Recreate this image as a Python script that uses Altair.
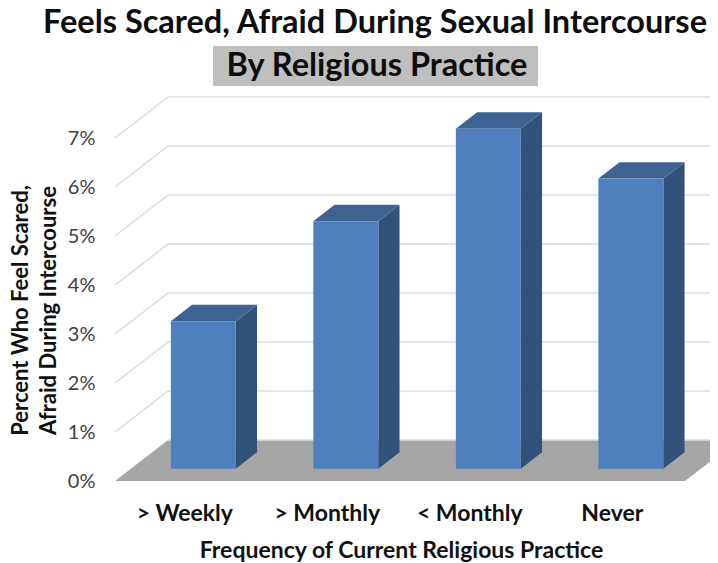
import altair as alt
import pandas as pd

categories = ["> Weekly", "> Monthly", "< Monthly", "Never"]
values = [3.01, 5.05, 6.94, 5.92]
grid_levels = [0, 1, 2, 3, 4, 5, 6, 7]
title_line1 = "Feels Scared, Afraid During Sexual Intercourse"
title_line2 = "By Religious Practice"
y_title = ["Percent Who Feel Scared,", "Afraid During Intercourse"]
x_title = "Frequency of Current Religious Practice"

W, H = 702, 555
X_DOMAIN = [-0.751, 4.175]
Y_DOMAIN = [-1.673, 9.653]
DX, DY = 0.372, 0.837      # oblique offset of the full floor depth, in data units
BAR_W = 0.456
D0, D1 = 0.30, 0.70        # bar's depth span as a share of the floor depth
FONT = "Lato"

xs = alt.Scale(domain=X_DOMAIN, nice=False, zero=False)
ys = alt.Scale(domain=Y_DOMAIN, nice=False, zero=False)

label_expr = "{'0.5':'> Weekly','1.5':'> Monthly','2.5':'< Monthly','3.5':'Never'}[''+datum.value]"

x_axis = alt.Axis(
    values=[0.5, 1.5, 2.5, 3.5], labelExpr=label_expr, title=x_title, grid=False, domain=False, ticks=False,
    labelFont=FONT, labelFontSize=23, labelFontWeight="bold", labelColor="#111111", labelPadding=0,
    labelOffset=-2, offset=-61, titleFont=FONT, titleFontSize=23, titleFontWeight="bold", titleColor="#111111",
    titleX=393, titleY=55, titleAlign="center", titleBaseline="alphabetic", labelFlush=False, labelOverlap=False,
)
y_axis = alt.Axis(
    values=grid_levels, labelExpr="datum.value + '%'", title=y_title, grid=False, domain=False,
    ticks=False, labelFont=FONT, labelFontSize=20, labelColor="#404040", labelPadding=0, offset=-87,
    titleFont=FONT, titleFontSize=22, titleFontWeight="bold", titleColor="#111111", titleX=-68, titleY=302,
    titleAlign="center", titleAngle=270, titleBaseline="alphabetic", titleLineHeight=28, labelFlush=False,
    labelOverlap=False,
)


def X(f="x"):
    return alt.X(f"{f}:Q", scale=xs, axis=x_axis)


def Y(f="y"):
    return alt.Y(f"{f}:Q", scale=ys, axis=y_axis)


# walls
back = pd.DataFrame({"x": [DX] * len(grid_levels), "x2": [X_DOMAIN[1]] * len(grid_levels),
                     "y": [g + DY for g in grid_levels]})
diag = pd.DataFrame([{"g": g, "x": cx, "y": g + cy}
                     for g in grid_levels[1:] for cx, cy in ((0, 0), (DX, DY))])
floor = pd.DataFrame({"y": [0, DY], "x": [0, DX], "x2": [4, 4 + DX]})

# bars
front, side, top = [], [], []
for i, (c, v) in enumerate(zip(categories, values)):
    l = i + 0.508 - BAR_W / 2 + D0 * DX
    r = l + BAR_W
    b = D0 * DY
    t = b + v
    ox, oy = (D1 - D0) * DX, (D1 - D0) * DY
    front.append({"c": c, "x": l, "x2": r, "y": b, "y2": t})
    side += [{"c": c, "x": r, "y": b, "y2": t}, {"c": c, "x": r + ox, "y": b + oy, "y2": t + oy}]
    top += [{"c": c, "y": t, "x": l, "x2": r}, {"c": c, "y": t + oy, "x": l + ox, "x2": r + ox}]
front, side, top = map(pd.DataFrame, (front, side, top))

floor_layer = alt.Chart(floor).mark_area(orient="horizontal", color="#a6a6a6", clip=True).encode(
    x=X(), x2="x2:Q", y=Y())
back_layer = alt.Chart(back).mark_rule(color="#dcdcdc", strokeWidth=1.5, clip=True).encode(
    x=X(), x2="x2:Q", y=Y())
diag_layer = alt.Chart(diag).mark_line(color="#dcdcdc", strokeWidth=1.5).encode(
    x=X(), y=Y(), detail="g:Q")
side_layer = alt.Chart(side).mark_area(color="#325379").encode(
    x=X(), y=Y(), y2="y2:Q", detail="c:N")
top_layer = alt.Chart(top).mark_area(orient="horizontal", color="#3e6391").encode(
    x=X(), x2="x2:Q", y=Y(), detail="c:N")
front_layer = alt.Chart(front).mark_rect(color="#4f80bd").encode(
    x=X(), x2="x2:Q", y=Y(), y2="y2:Q")

title_box = alt.Chart(pd.DataFrame({"a": [0]})).mark_rect(color="#bfbfbf").encode(
    x=alt.value(205), x2=alt.value(530), y=alt.value(38), y2=alt.value(78))
t1 = alt.Chart(pd.DataFrame({"t": [title_line1]})).mark_text(
    font=FONT, fontSize=32.5, fontWeight="bold", color="#0d0d0d", align="center", baseline="alphabetic"
).encode(text="t:N", x=alt.value(367), y=alt.value(25))
t2 = alt.Chart(pd.DataFrame({"t": [title_line2]})).mark_text(
    font=FONT, fontSize=32.5, fontWeight="bold", color="#0d0d0d", align="center", baseline="alphabetic"
).encode(text="t:N", x=alt.value(369), y=alt.value(68))

chart = alt.layer(floor_layer, back_layer, diag_layer, side_layer, top_layer, front_layer, title_box, t1, t2).properties(
    width=W, height=H, padding=0, autosize=alt.AutoSizeParams(type="none"), background="white"
).configure_view(stroke=None)

chart.save("out.html", embed_options={"renderer": "svg", "actions": False})
